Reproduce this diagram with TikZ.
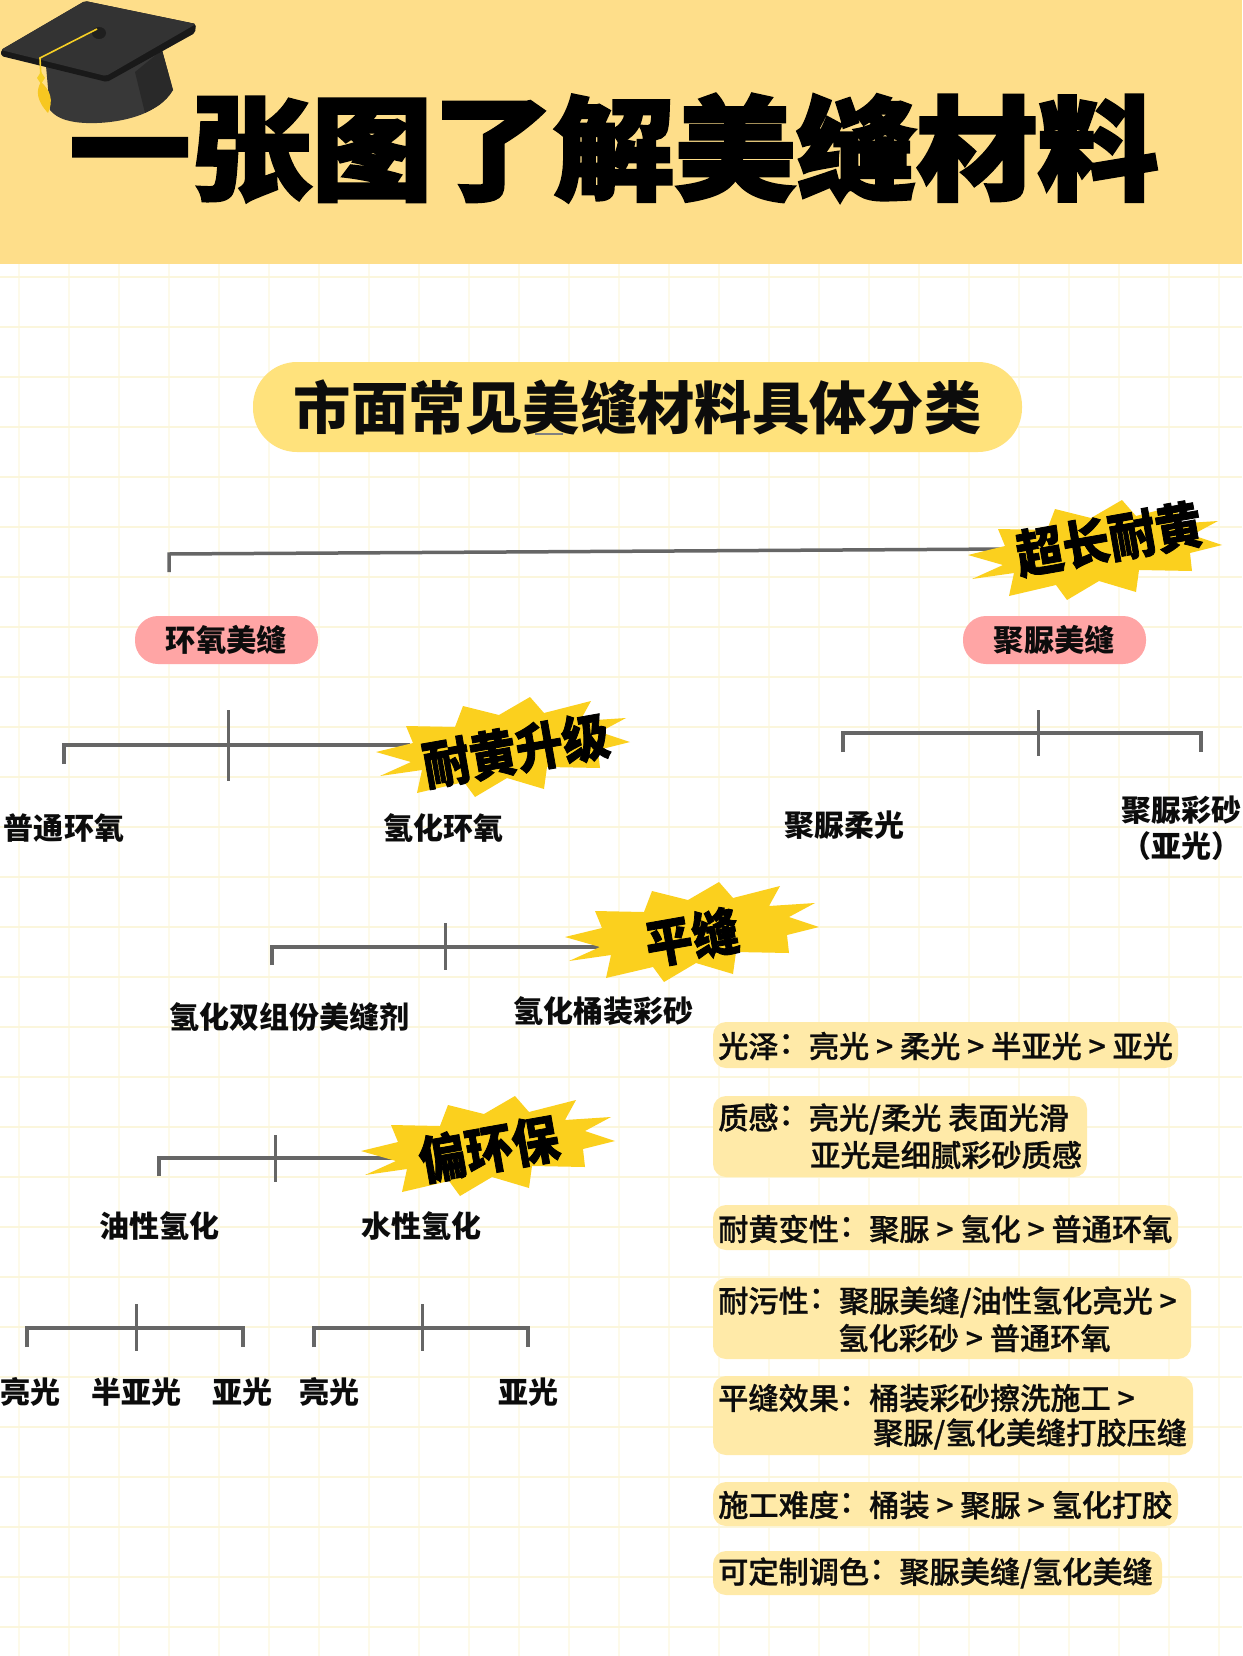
\documentclass[tikz,border=0pt]{standalone}
\usepackage{fontspec}
\newfontfamily\cjk{Noto Sans CJK SC}
\newfontfamily\cjkmed{Noto Sans CJK SC Medium}[FakeBold=0.8]
\newfontfamily\cjkheavy[BoldFeatures={FakeBold=2.5}]{Noto Sans CJK SC}
\newfontfamily\cjkstick[BoldFeatures={FakeBold=1.6}]{Noto Sans CJK SC}
\newcommand{\cln}{\raisebox{0.13em}{：}}
\definecolor{banner}{HTML}{FEDE8A}
\definecolor{gridh}{HTML}{FBF6DC}
\definecolor{gridv}{HTML}{FDFAEA}
\definecolor{pillyellow}{HTML}{FFE27C}
\definecolor{pillpink}{HTML}{FFA5A5}
\definecolor{burstcol}{HTML}{FBD01E}
\definecolor{panelcol}{HTML}{FFEAA8}
\definecolor{linecol}{HTML}{666666}
\definecolor{inkblack}{HTML}{0C0C0C}
\definecolor{tassel}{HTML}{F6CF25}
\tikzset{
  x=1pt,y=-1pt,
  conn/.style={draw=linecol,line width=3.5pt,line cap=butt,line join=miter},
  ticklt/.style={draw=linecol,line width=3pt},
  lab/.style={font=\cjk\bfseries\fontsize{30}{34}\selectfont,text=inkblack,inner sep=0pt},
  pilltext/.style={font=\cjk\bfseries\fontsize{30.3}{34}\selectfont,text=inkblack},
  pinkpill/.style={fill=pillpink,rounded corners=23pt,minimum width=183pt,minimum height=48pt,inner sep=0pt,pilltext},
  stick/.style={font=\cjkstick\bfseries\fontsize{47}{50}\selectfont,text=black,rotate=10,yscale=1.1,inner sep=0pt},
  pan/.style={fill=panelcol,rounded corners=13pt},
  ptxt/.style={font=\cjkmed\fontsize{30.2}{34}\selectfont,text=inkblack,inner sep=0pt,anchor=west},
  burst/.pic={\fill[burstcol] (-127,5)--(-90,-4)--(-97,-21)--(-48,-20)--(-40,-41)--(-4,-32)--(27,-50)--(41,-34)--(88,-46)--(77,-26)--(123,-29)--(97,-15)--(127,-5)--(95,3)--(97,21)--(44,20)--(41,42)--(4,31)--(-28,50)--(-39,35)--(-86,46)--(-81,23)--(-123,29)--(-92,15)--cycle;}
}
\begin{document}
\begin{tikzpicture}
\useasboundingbox (0,0) rectangle (1242,1656);
\fill[white] (0,0) rectangle (1242,1656);
% grid
\foreach \gx in {19,69,...,1219} \draw[gridv,line width=1.6pt] (\gx,264)--(\gx,1656);
\foreach \gy in {276.7,326.7,...,1640} \draw[gridh,line width=2.4pt] (0,\gy)--(1242,\gy);
% banner
\fill[banner] (0,0) rectangle (1242,264);
\node[font=\cjkheavy\bfseries\fontsize{121}{121}\selectfont,text=black,inner sep=0pt,yscale=0.93] (title) at (614,148) {一张图了解美缝材料};
% cap
\fill[black!78] (46,66)--(162,50)--(173,90) .. controls (165,103) and (155,108) .. (145,113) .. controls (125,122) and (95,125) .. (75,122) .. controls (62,120) and (55,116) .. (50,110)--cycle;
\fill[black!84] (135,72)--(162,50)--(173,90) .. controls (165,103) and (155,108) .. (145,113)--cycle;
\fill[black!90,rounded corners=2pt] (1,50)--(85,1)--(196,24)--(195,33)--(107,82)--(1,56)--cycle;
\fill[black!80,rounded corners=2pt] (1,50)--(85,1)--(196,24)--(106,76)--cycle;
\fill[black!88] (99,33) ellipse (7pt and 6pt);
\draw[tassel,line width=1.6pt] (97,29)--(40,58)--(41,78);
\fill[tassel] (41,72)--(45,78)--(41,84)--(37,78)--cycle;
\fill[tassel!90!orange] (41,82) .. controls (36,90) and (36,100) .. (48,113) .. controls (54,100) and (50,90) .. (41,82)--cycle;
% subtitle
\node[fill=pillyellow,rounded corners=44pt,minimum width=769pt,minimum height=90pt,inner sep=0pt,font=\cjk\bfseries\fontsize{57.3}{60}\selectfont,text=inkblack] (sub) at (637.5,407) {市面常见美缝材料具体分类};
\coordinate (u1) at (535,434);\coordinate (u2) at (563,434);
\draw[draw=black!50,line width=2.5pt] (u1)--(u2);
% top connector
\coordinate (a1) at (169,572);\coordinate (a2) at (169,554);\coordinate (a3) at (1010,549);
\draw[conn] (a1)--(a2)--(a3);
\pic at (1095,550) {burst};
\node[stick] (s1) at (1109,539) {超长耐黄};
\node[pinkpill] (epoxy) at (226.5,640) {环氧美缝};
\node[pinkpill] (polyurea) at (1054.5,640) {聚脲美缝};
% bracket epoxy
\coordinate (b1) at (64,764);\coordinate (b2) at (64,745);\coordinate (b3) at (410,745);
\coordinate (b4) at (228,710);\coordinate (b5) at (228,781);
\draw[conn] (b1)--(b2)--(b3);\draw[ticklt] (b4)--(b5);
\pic at (503,747) {burst};
\node[stick] (s2) at (516,750) {耐黄升级};
\node[lab] (n1) at (64,828) {普通环氧};
\node[lab] (n2) at (443,828) {氢化环氧};
% bracket polyurea
\coordinate (c1) at (843,752);\coordinate (c2) at (843,733);\coordinate (c3) at (1201,733);\coordinate (c4) at (1201,752);
\coordinate (c5) at (1038,710);\coordinate (c6) at (1038,756);
\draw[conn] (c1)--(c2)--(c3)--(c4);\draw[ticklt] (c5)--(c6);
\node[lab] (n3) at (844,825) {聚脲柔光};
\node[lab] (n4) at (1181,810) {聚脲彩砂};
\node[lab] (n5) at (1181,846) {（亚光）};
% bracket hydro
\coordinate (d1) at (272,965);\coordinate (d2) at (272,947);\coordinate (d3) at (613,947);\coordinate (d4) at (613,965);
\coordinate (d5) at (445,923);\coordinate (d6) at (445,970);
\draw[conn] (d1)--(d2)--(d3)--(d4);\draw[ticklt] (d5)--(d6);
\pic at (692,932) {burst};
\node[stick] (s3) at (692,937) {平缝};
\node[lab] (n6) at (289,1017) {氢化双组份美缝剂};
\node[lab] (n7) at (603,1011) {氢化桶装彩砂};
% bracket oil/water
\coordinate (e1) at (159,1176);\coordinate (e2) at (159,1158);\coordinate (e3) at (400,1158);
\coordinate (e4) at (275,1135);\coordinate (e5) at (275,1182);
\draw[conn] (e1)--(e2)--(e3);\draw[ticklt] (e4)--(e5);
\pic at (488,1146) {burst};
\node[stick] (s4) at (489,1149) {偏环保};
\node[lab] (n8) at (159,1226) {油性氢化};
\node[lab] (n9) at (421,1226) {水性氢化};
% lower brackets
\coordinate (f1) at (27,1347);\coordinate (f2) at (27,1328);\coordinate (f3) at (243,1328);\coordinate (f4) at (243,1347);
\coordinate (f5) at (136,1304);\coordinate (f6) at (136,1351);
\draw[conn] (f1)--(f2)--(f3)--(f4);\draw[ticklt] (f5)--(f6);
\coordinate (g1) at (314,1347);\coordinate (g2) at (314,1328);\coordinate (g3) at (528,1328);\coordinate (g4) at (528,1347);
\coordinate (g5) at (422,1304);\coordinate (g6) at (422,1351);
\draw[conn] (g1)--(g2)--(g3)--(g4);\draw[ticklt] (g5)--(g6);
\node[lab] (m1) at (30,1392) {亮光};
\node[lab] (m2) at (136,1392) {半亚光};
\node[lab] (m3) at (242,1392) {亚光};
\node[lab] (m4) at (329,1392) {亮光};
\node[lab] (m5) at (528,1392) {亚光};
% panels
\fill[pan] (713,1022) rectangle (1178,1068);
\fill[pan] (713,1096) rectangle (1087,1177);
\fill[pan] (713,1205) rectangle (1178,1250);
\fill[pan] (713,1278) rectangle (1191,1359);
\fill[pan] (713,1376) rectangle (1193,1455);
\fill[pan] (713,1482) rectangle (1178,1526);
\fill[pan] (713,1551) rectangle (1162,1595);
\node[ptxt] (p1) at (718,1046) {光泽\cln 亮光 > 柔光 > 半亚光 > 亚光};
\node[ptxt] (p2) at (718,1119) {质感\cln 亮光/柔光 表面光滑};
\node[ptxt] (p2b) at (810,1155) {亚光是细腻彩砂质感};
\node[ptxt] (p3) at (718,1229) {耐黄变性\cln 聚脲 > 氢化 > 普通环氧};
\node[ptxt] (p4) at (718,1302) {耐污性\cln 聚脲美缝/油性氢化亮光 >};
\node[ptxt] (p4b) at (838,1338) {氢化彩砂 > 普通环氧};
\node[ptxt] (p5) at (718,1398) {平缝效果\cln 桶装彩砂擦洗施工 >};
\node[ptxt] (p5b) at (873,1434) {聚脲/氢化美缝打胶压缝};
\node[ptxt] (p6) at (718,1505) {施工难度\cln 桶装 > 聚脲 > 氢化打胶};
\node[ptxt] (p7) at (718,1573) {可定制调色\cln 聚脲美缝/氢化美缝};
\end{tikzpicture}
\end{document}
